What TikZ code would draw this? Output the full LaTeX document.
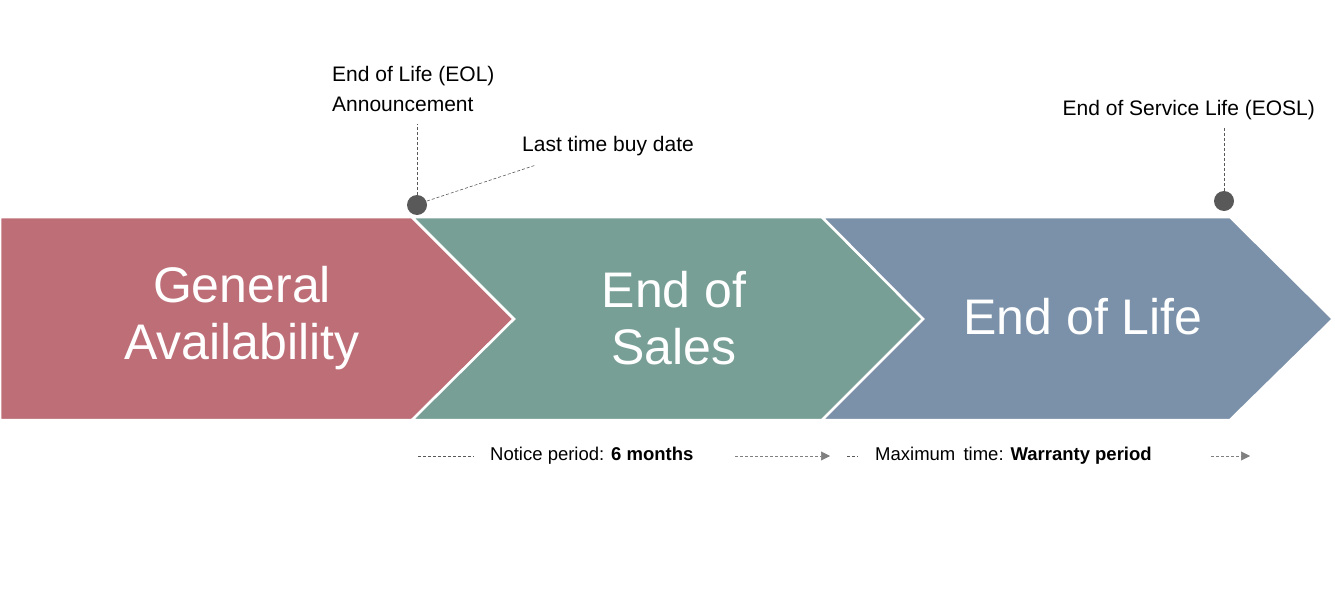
\documentclass[tikz,border=0pt]{standalone}
\usepackage{fontspec}
\setmainfont{Liberation Sans}
\usetikzlibrary{arrows.meta}
\definecolor{cred}{HTML}{BE6E77}
\definecolor{cgreen}{HTML}{789F96}
\definecolor{cblue}{HTML}{7B91A9}
\definecolor{cdot}{HTML}{595959}
\begin{document}
\begin{tikzpicture}[x=1pt,y=-1pt,
  chev/.style={line width=2.5pt,draw=white,line join=miter},
  big/.style={text=white,font=\fontsize{50}{57}\selectfont,align=center},
  lbl/.style={font=\fontsize{21}{30}\selectfont,inner sep=0pt},
  sm/.style={font=\fontsize{18.5}{22}\selectfont,inner sep=0pt},
  dl/.style={dashed,draw=cdot,line width=0.6pt,dash pattern=on 3pt off 2pt},
  ar/.style={dl,-{Triangle[length=9pt,width=9pt]},draw=gray!80,color=gray}]
\useasboundingbox (0,0) rectangle (1335,589);
\fill[cred,chev] (0,217)--(412,217)--(514,319)--(412,420)--(0,420)--cycle;
\fill[cgreen,chev] (412,217)--(822,217)--(923,319)--(822,420)--(412,420)--(514,319)--cycle;
\fill[cblue,chev] (822,217)--(1230,217)--(1333,319)--(1230,420)--(822,420)--(923,319)--cycle;
\node[big] (ga) at (242,318) {General\\Availability};
\node[big] (es) at (674,318) {End of\\Sales};
\node[big] (el) at (1083,317) {End of Life};
\fill[cdot] (417,205) circle (10) coordinate (d1);
\fill[cdot] (1224,201) circle (10) coordinate (d2);
\node[lbl,anchor=north west,align=left] (eol) at (332,66) {End of Life (EOL)\\Announcement};
\node[lbl,anchor=west] (ltb) at (522,146) {Last time buy date};
\node[lbl,anchor=east] (eosl) at (1315,110) {End of Service Life (EOSL)};
\draw[dl] (417,195) -- (417,124);
\draw[dl] (427,201) -- (536,165);
\draw[dl] (1224,191) -- (1224,127);
\node[sm,anchor=west] (np) at (490,456) {Notice period: \textbf{6 months}};
\node[sm,anchor=west] (mt) at (875,456) {Maximum\,\ time: \textbf{Warranty period}};
\draw[dl] (418,456) -- (474,456);
\draw[ar] (735,456) -- (830,456);
\draw[dl] (847,456) -- (858,456);
\draw[ar] (1211,456) -- (1250,456);
\end{tikzpicture}
\end{document}
